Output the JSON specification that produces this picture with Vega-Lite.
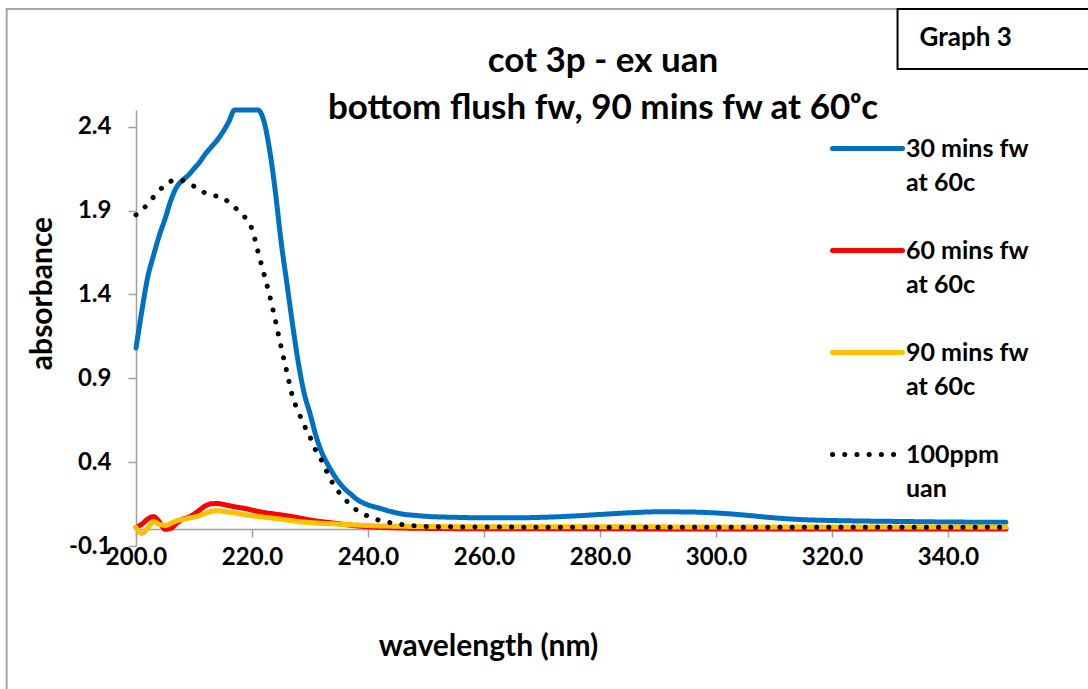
{
  "$schema": "https://vega.github.io/schema/vega-lite/v6.json",
  "width": 870,
  "height": 436,
  "autosize": {"type": "none"},
  "padding": {"left": 136, "top": 110, "right": 82, "bottom": 143},
  "background": "white",
  "config": {"view": {"stroke": null}, "font": "Lato"},
  "title": {
    "text": ["cot 3p - ex uan", "bottom flush fw, 90 mins fw at 60ᵒc"],
    "font": "Lato",
    "fontSize": 35,
    "fontWeight": "bold",
    "color": "black",
    "lineHeight": 47,
    "anchor": "middle",
    "dx": 32,
    "offset": -118
  },
  "datasets": {
    "spectra": [
      {"series": "30 mins fw at 60c", "wavelength": 200, "absorbance": 1.08},
      {"series": "30 mins fw at 60c", "wavelength": 201, "absorbance": 1.30},
      {"series": "30 mins fw at 60c", "wavelength": 202, "absorbance": 1.50},
      {"series": "30 mins fw at 60c", "wavelength": 203, "absorbance": 1.63},
      {"series": "30 mins fw at 60c", "wavelength": 204, "absorbance": 1.75},
      {"series": "30 mins fw at 60c", "wavelength": 205, "absorbance": 1.85},
      {"series": "30 mins fw at 60c", "wavelength": 206, "absorbance": 1.96},
      {"series": "30 mins fw at 60c", "wavelength": 207, "absorbance": 2.04},
      {"series": "30 mins fw at 60c", "wavelength": 208, "absorbance": 2.08},
      {"series": "30 mins fw at 60c", "wavelength": 209, "absorbance": 2.11},
      {"series": "30 mins fw at 60c", "wavelength": 210, "absorbance": 2.15},
      {"series": "30 mins fw at 60c", "wavelength": 211, "absorbance": 2.19},
      {"series": "30 mins fw at 60c", "wavelength": 212, "absorbance": 2.24},
      {"series": "30 mins fw at 60c", "wavelength": 213, "absorbance": 2.28},
      {"series": "30 mins fw at 60c", "wavelength": 214, "absorbance": 2.32},
      {"series": "30 mins fw at 60c", "wavelength": 215, "absorbance": 2.37},
      {"series": "30 mins fw at 60c", "wavelength": 216, "absorbance": 2.43},
      {"series": "30 mins fw at 60c", "wavelength": 217, "absorbance": 2.50},
      {"series": "30 mins fw at 60c", "wavelength": 218, "absorbance": 2.50},
      {"series": "30 mins fw at 60c", "wavelength": 219, "absorbance": 2.50},
      {"series": "30 mins fw at 60c", "wavelength": 220, "absorbance": 2.50},
      {"series": "30 mins fw at 60c", "wavelength": 221, "absorbance": 2.50},
      {"series": "30 mins fw at 60c", "wavelength": 222, "absorbance": 2.44},
      {"series": "30 mins fw at 60c", "wavelength": 223, "absorbance": 2.27},
      {"series": "30 mins fw at 60c", "wavelength": 224, "absorbance": 2.02},
      {"series": "30 mins fw at 60c", "wavelength": 225, "absorbance": 1.72},
      {"series": "30 mins fw at 60c", "wavelength": 226, "absorbance": 1.47},
      {"series": "30 mins fw at 60c", "wavelength": 227, "absorbance": 1.22},
      {"series": "30 mins fw at 60c", "wavelength": 228, "absorbance": 0.99},
      {"series": "30 mins fw at 60c", "wavelength": 229, "absorbance": 0.81},
      {"series": "30 mins fw at 60c", "wavelength": 230, "absorbance": 0.69},
      {"series": "30 mins fw at 60c", "wavelength": 231, "absorbance": 0.56},
      {"series": "30 mins fw at 60c", "wavelength": 232, "absorbance": 0.46},
      {"series": "30 mins fw at 60c", "wavelength": 233, "absorbance": 0.39},
      {"series": "30 mins fw at 60c", "wavelength": 234, "absorbance": 0.33},
      {"series": "30 mins fw at 60c", "wavelength": 235, "absorbance": 0.28},
      {"series": "30 mins fw at 60c", "wavelength": 236, "absorbance": 0.24},
      {"series": "30 mins fw at 60c", "wavelength": 237, "absorbance": 0.21},
      {"series": "30 mins fw at 60c", "wavelength": 238, "absorbance": 0.18},
      {"series": "30 mins fw at 60c", "wavelength": 239, "absorbance": 0.16},
      {"series": "30 mins fw at 60c", "wavelength": 240, "absorbance": 0.145},
      {"series": "30 mins fw at 60c", "wavelength": 242, "absorbance": 0.125},
      {"series": "30 mins fw at 60c", "wavelength": 244, "absorbance": 0.105},
      {"series": "30 mins fw at 60c", "wavelength": 246, "absorbance": 0.09},
      {"series": "30 mins fw at 60c", "wavelength": 248, "absorbance": 0.083},
      {"series": "30 mins fw at 60c", "wavelength": 250, "absorbance": 0.077},
      {"series": "30 mins fw at 60c", "wavelength": 255, "absorbance": 0.071},
      {"series": "30 mins fw at 60c", "wavelength": 260, "absorbance": 0.068},
      {"series": "30 mins fw at 60c", "wavelength": 265, "absorbance": 0.068},
      {"series": "30 mins fw at 60c", "wavelength": 270, "absorbance": 0.071},
      {"series": "30 mins fw at 60c", "wavelength": 275, "absorbance": 0.078},
      {"series": "30 mins fw at 60c", "wavelength": 280, "absorbance": 0.088},
      {"series": "30 mins fw at 60c", "wavelength": 285, "absorbance": 0.098},
      {"series": "30 mins fw at 60c", "wavelength": 290, "absorbance": 0.104},
      {"series": "30 mins fw at 60c", "wavelength": 295, "absorbance": 0.103},
      {"series": "30 mins fw at 60c", "wavelength": 300, "absorbance": 0.097},
      {"series": "30 mins fw at 60c", "wavelength": 305, "absorbance": 0.084},
      {"series": "30 mins fw at 60c", "wavelength": 310, "absorbance": 0.068},
      {"series": "30 mins fw at 60c", "wavelength": 315, "absorbance": 0.057},
      {"series": "30 mins fw at 60c", "wavelength": 320, "absorbance": 0.052},
      {"series": "30 mins fw at 60c", "wavelength": 325, "absorbance": 0.049},
      {"series": "30 mins fw at 60c", "wavelength": 330, "absorbance": 0.047},
      {"series": "30 mins fw at 60c", "wavelength": 335, "absorbance": 0.045},
      {"series": "30 mins fw at 60c", "wavelength": 340, "absorbance": 0.043},
      {"series": "30 mins fw at 60c", "wavelength": 345, "absorbance": 0.042},
      {"series": "30 mins fw at 60c", "wavelength": 350, "absorbance": 0.041},

      {"series": "60 mins fw at 60c", "wavelength": 200, "absorbance": 0.01},
      {"series": "60 mins fw at 60c", "wavelength": 201, "absorbance": 0.03},
      {"series": "60 mins fw at 60c", "wavelength": 202, "absorbance": 0.06},
      {"series": "60 mins fw at 60c", "wavelength": 203, "absorbance": 0.075},
      {"series": "60 mins fw at 60c", "wavelength": 204, "absorbance": 0.045},
      {"series": "60 mins fw at 60c", "wavelength": 205, "absorbance": 0.0},
      {"series": "60 mins fw at 60c", "wavelength": 206, "absorbance": 0.005},
      {"series": "60 mins fw at 60c", "wavelength": 207, "absorbance": 0.035},
      {"series": "60 mins fw at 60c", "wavelength": 208, "absorbance": 0.06},
      {"series": "60 mins fw at 60c", "wavelength": 209, "absorbance": 0.07},
      {"series": "60 mins fw at 60c", "wavelength": 210, "absorbance": 0.09},
      {"series": "60 mins fw at 60c", "wavelength": 211, "absorbance": 0.115},
      {"series": "60 mins fw at 60c", "wavelength": 212, "absorbance": 0.14},
      {"series": "60 mins fw at 60c", "wavelength": 213, "absorbance": 0.152},
      {"series": "60 mins fw at 60c", "wavelength": 214, "absorbance": 0.153},
      {"series": "60 mins fw at 60c", "wavelength": 215, "absorbance": 0.148},
      {"series": "60 mins fw at 60c", "wavelength": 216, "absorbance": 0.141},
      {"series": "60 mins fw at 60c", "wavelength": 217, "absorbance": 0.134},
      {"series": "60 mins fw at 60c", "wavelength": 218, "absorbance": 0.128},
      {"series": "60 mins fw at 60c", "wavelength": 219, "absorbance": 0.122},
      {"series": "60 mins fw at 60c", "wavelength": 220, "absorbance": 0.114},
      {"series": "60 mins fw at 60c", "wavelength": 222, "absorbance": 0.1},
      {"series": "60 mins fw at 60c", "wavelength": 224, "absorbance": 0.09},
      {"series": "60 mins fw at 60c", "wavelength": 226, "absorbance": 0.08},
      {"series": "60 mins fw at 60c", "wavelength": 228, "absorbance": 0.068},
      {"series": "60 mins fw at 60c", "wavelength": 230, "absorbance": 0.055},
      {"series": "60 mins fw at 60c", "wavelength": 232, "absorbance": 0.045},
      {"series": "60 mins fw at 60c", "wavelength": 234, "absorbance": 0.037},
      {"series": "60 mins fw at 60c", "wavelength": 236, "absorbance": 0.028},
      {"series": "60 mins fw at 60c", "wavelength": 238, "absorbance": 0.02},
      {"series": "60 mins fw at 60c", "wavelength": 240, "absorbance": 0.015},
      {"series": "60 mins fw at 60c", "wavelength": 245, "absorbance": 0.008},
      {"series": "60 mins fw at 60c", "wavelength": 250, "absorbance": 0.005},
      {"series": "60 mins fw at 60c", "wavelength": 260, "absorbance": 0.003},
      {"series": "60 mins fw at 60c", "wavelength": 300, "absorbance": 0.002},
      {"series": "60 mins fw at 60c", "wavelength": 350, "absorbance": 0.002},

      {"series": "90 mins fw at 60c", "wavelength": 200, "absorbance": 0.01},
      {"series": "90 mins fw at 60c", "wavelength": 201, "absorbance": -0.025},
      {"series": "90 mins fw at 60c", "wavelength": 202, "absorbance": 0.005},
      {"series": "90 mins fw at 60c", "wavelength": 203, "absorbance": 0.045},
      {"series": "90 mins fw at 60c", "wavelength": 204, "absorbance": 0.03},
      {"series": "90 mins fw at 60c", "wavelength": 205, "absorbance": 0.022},
      {"series": "90 mins fw at 60c", "wavelength": 206, "absorbance": 0.035},
      {"series": "90 mins fw at 60c", "wavelength": 207, "absorbance": 0.05},
      {"series": "90 mins fw at 60c", "wavelength": 208, "absorbance": 0.058},
      {"series": "90 mins fw at 60c", "wavelength": 209, "absorbance": 0.065},
      {"series": "90 mins fw at 60c", "wavelength": 210, "absorbance": 0.072},
      {"series": "90 mins fw at 60c", "wavelength": 211, "absorbance": 0.082},
      {"series": "90 mins fw at 60c", "wavelength": 212, "absorbance": 0.095},
      {"series": "90 mins fw at 60c", "wavelength": 213, "absorbance": 0.106},
      {"series": "90 mins fw at 60c", "wavelength": 214, "absorbance": 0.11},
      {"series": "90 mins fw at 60c", "wavelength": 215, "absorbance": 0.107},
      {"series": "90 mins fw at 60c", "wavelength": 216, "absorbance": 0.102},
      {"series": "90 mins fw at 60c", "wavelength": 217, "absorbance": 0.097},
      {"series": "90 mins fw at 60c", "wavelength": 218, "absorbance": 0.091},
      {"series": "90 mins fw at 60c", "wavelength": 220, "absorbance": 0.081},
      {"series": "90 mins fw at 60c", "wavelength": 222, "absorbance": 0.072},
      {"series": "90 mins fw at 60c", "wavelength": 224, "absorbance": 0.064},
      {"series": "90 mins fw at 60c", "wavelength": 226, "absorbance": 0.055},
      {"series": "90 mins fw at 60c", "wavelength": 228, "absorbance": 0.046},
      {"series": "90 mins fw at 60c", "wavelength": 230, "absorbance": 0.04},
      {"series": "90 mins fw at 60c", "wavelength": 232, "absorbance": 0.035},
      {"series": "90 mins fw at 60c", "wavelength": 234, "absorbance": 0.032},
      {"series": "90 mins fw at 60c", "wavelength": 236, "absorbance": 0.028},
      {"series": "90 mins fw at 60c", "wavelength": 238, "absorbance": 0.025},
      {"series": "90 mins fw at 60c", "wavelength": 240, "absorbance": 0.022},
      {"series": "90 mins fw at 60c", "wavelength": 245, "absorbance": 0.018},
      {"series": "90 mins fw at 60c", "wavelength": 250, "absorbance": 0.016},
      {"series": "90 mins fw at 60c", "wavelength": 260, "absorbance": 0.015},
      {"series": "90 mins fw at 60c", "wavelength": 300, "absorbance": 0.014},
      {"series": "90 mins fw at 60c", "wavelength": 350, "absorbance": 0.014},

      {"series": "100ppm uan", "wavelength": 200, "absorbance": 1.875},
      {"series": "100ppm uan", "wavelength": 201, "absorbance": 1.9},
      {"series": "100ppm uan", "wavelength": 202, "absorbance": 1.94},
      {"series": "100ppm uan", "wavelength": 203, "absorbance": 1.98},
      {"series": "100ppm uan", "wavelength": 204, "absorbance": 2.02},
      {"series": "100ppm uan", "wavelength": 205, "absorbance": 2.05},
      {"series": "100ppm uan", "wavelength": 206, "absorbance": 2.075},
      {"series": "100ppm uan", "wavelength": 207, "absorbance": 2.085},
      {"series": "100ppm uan", "wavelength": 208, "absorbance": 2.08},
      {"series": "100ppm uan", "wavelength": 209, "absorbance": 2.065},
      {"series": "100ppm uan", "wavelength": 210, "absorbance": 2.045},
      {"series": "100ppm uan", "wavelength": 211, "absorbance": 2.02},
      {"series": "100ppm uan", "wavelength": 212, "absorbance": 2.005},
      {"series": "100ppm uan", "wavelength": 213, "absorbance": 1.995},
      {"series": "100ppm uan", "wavelength": 214, "absorbance": 1.985},
      {"series": "100ppm uan", "wavelength": 215, "absorbance": 1.975},
      {"series": "100ppm uan", "wavelength": 216, "absorbance": 1.95},
      {"series": "100ppm uan", "wavelength": 217, "absorbance": 1.92},
      {"series": "100ppm uan", "wavelength": 218, "absorbance": 1.89},
      {"series": "100ppm uan", "wavelength": 219, "absorbance": 1.85},
      {"series": "100ppm uan", "wavelength": 220, "absorbance": 1.79},
      {"series": "100ppm uan", "wavelength": 221, "absorbance": 1.66},
      {"series": "100ppm uan", "wavelength": 222, "absorbance": 1.53},
      {"series": "100ppm uan", "wavelength": 223, "absorbance": 1.40},
      {"series": "100ppm uan", "wavelength": 224, "absorbance": 1.25},
      {"series": "100ppm uan", "wavelength": 225, "absorbance": 1.09},
      {"series": "100ppm uan", "wavelength": 226, "absorbance": 0.94},
      {"series": "100ppm uan", "wavelength": 227, "absorbance": 0.79},
      {"series": "100ppm uan", "wavelength": 228, "absorbance": 0.70},
      {"series": "100ppm uan", "wavelength": 229, "absorbance": 0.62},
      {"series": "100ppm uan", "wavelength": 230, "absorbance": 0.55},
      {"series": "100ppm uan", "wavelength": 231, "absorbance": 0.47},
      {"series": "100ppm uan", "wavelength": 232, "absorbance": 0.41},
      {"series": "100ppm uan", "wavelength": 233, "absorbance": 0.335},
      {"series": "100ppm uan", "wavelength": 234, "absorbance": 0.27},
      {"series": "100ppm uan", "wavelength": 235, "absorbance": 0.22},
      {"series": "100ppm uan", "wavelength": 236, "absorbance": 0.18},
      {"series": "100ppm uan", "wavelength": 237, "absorbance": 0.145},
      {"series": "100ppm uan", "wavelength": 238, "absorbance": 0.115},
      {"series": "100ppm uan", "wavelength": 239, "absorbance": 0.095},
      {"series": "100ppm uan", "wavelength": 240, "absorbance": 0.078},
      {"series": "100ppm uan", "wavelength": 241, "absorbance": 0.064},
      {"series": "100ppm uan", "wavelength": 242, "absorbance": 0.053},
      {"series": "100ppm uan", "wavelength": 244, "absorbance": 0.038},
      {"series": "100ppm uan", "wavelength": 246, "absorbance": 0.028},
      {"series": "100ppm uan", "wavelength": 248, "absorbance": 0.021},
      {"series": "100ppm uan", "wavelength": 250, "absorbance": 0.017},
      {"series": "100ppm uan", "wavelength": 260, "absorbance": 0.013},
      {"series": "100ppm uan", "wavelength": 280, "absorbance": 0.012},
      {"series": "100ppm uan", "wavelength": 300, "absorbance": 0.012},
      {"series": "100ppm uan", "wavelength": 320, "absorbance": 0.012},
      {"series": "100ppm uan", "wavelength": 350, "absorbance": 0.012}
    ]
  },
  "layer": [
    {
      "data": {"values": [{}]},
      "mark": {"type": "rect", "fill": null, "fillOpacity": 0, "stroke": "#A6A6A6", "strokeWidth": 2},
      "encoding": {
        "x": {"datum": 177.7, "type": "quantitative"},
        "x2": {"datum": 380},
        "y": {"datum": 3.102, "type": "quantitative"},
        "y2": {"datum": -1.5}
      }
    },
    {
      "data": {"values": [{}]},
      "mark": {"type": "rect", "fill": "white", "stroke": "black", "strokeWidth": 2},
      "encoding": {
        "x": {"datum": 331.3, "type": "quantitative"},
        "x2": {"datum": 380},
        "y": {"datum": 3.102, "type": "quantitative"},
        "y2": {"datum": 2.745}
      }
    },
    {
      "data": {"values": [{}]},
      "mark": {"type": "text", "text": "Graph 3", "align": "left", "baseline": "middle", "font": "Lato", "fontSize": 26, "fontWeight": "bold", "color": "black"},
      "encoding": {
        "x": {"datum": 335.1, "type": "quantitative"},
        "y": {"datum": 2.93, "type": "quantitative"}
      }
    },
    {
      "data": {"name": "spectra"},
      "mark": {"type": "line", "strokeWidth": 5, "strokeCap": "round", "strokeJoin": "round", "interpolate": "monotone"},
      "encoding": {
        "x": {
          "field": "wavelength",
          "type": "quantitative",
          "scale": {"domain": [200, 350], "nice": false, "zero": false},
          "axis": {
            "title": "wavelength (nm)",
            "values": [200, 220, 240, 260, 280, 300, 320, 340],
            "format": ".1f",
            "offset": -17,
            "grid": false,
            "domainColor": "#A0A0A0",
            "domainWidth": 1.5,
            "tickColor": "#A0A0A0",
            "tickWidth": 1.5,
            "tickSize": 8,
            "labelPadding": 8,
            "labelFont": "Lato",
            "labelFontSize": 24,
            "labelFontWeight": "bold",
            "labelColor": "black",
            "labelFlush": false,
            "labelOverlap": false,
            "titleFont": "Lato",
            "titleFontSize": 30,
            "titleFontWeight": "bold",
            "titleColor": "black",
            "titleX": 352,
            "titleY": 117,
            "titleAlign": "center",
            "titleBaseline": "middle"
          }
        },
        "y": {
          "field": "absorbance",
          "type": "quantitative",
          "scale": {"domain": [-0.1, 2.5], "nice": false, "zero": false},
          "axis": {
            "title": "absorbance",
            "values": [-0.1, 0.4, 0.9, 1.4, 1.9, 2.4],
            "labelExpr": "replace(format(datum.value, '.1f'), '−', '-')",
            "grid": false,
            "domainColor": "#A0A0A0",
            "domainWidth": 1.5,
            "tickColor": "#A0A0A0",
            "tickWidth": 1.5,
            "tickSize": 8,
            "labelPadding": 17,
            "labelFont": "Lato",
            "labelFontSize": 24,
            "labelFontWeight": "bold",
            "labelColor": "black",
            "labelFlush": false,
            "labelOverlap": false,
            "titleFont": "Lato",
            "titleFontSize": 30,
            "titleFontWeight": "bold",
            "titleColor": "black",
            "titleX": -94,
            "titleY": 183,
            "titleAlign": "center",
            "titleBaseline": "middle",
            "titleAngle": -90
          }
        },
        "color": {
          "field": "series",
          "type": "nominal",
          "scale": {
            "domain": ["30 mins fw at 60c", "60 mins fw at 60c", "90 mins fw at 60c", "100ppm uan"],
            "range": ["#0070C0", "#FF0000", "#FFC000", "#000000"]
          },
          "legend": {
            "orient": "none",
            "legendX": 694,
            "legendY": 1,
            "title": null,
            "padding": 0,
            "symbolType": "stroke",
            "symbolSize": 4900,
            "symbolStrokeWidth": 5,
            "labelFont": "Lato",
            "labelFontSize": 25,
            "labelFontWeight": "bold",
            "labelColor": "black",
            "labelLimit": 300,
            "labelOffset": 1,
            "rowPadding": 17,
            "labelExpr": "split(replace(replace(datum.label, ' at ', '|at '), 'ppm ', 'ppm|'), '|')",
            "encode": {
              "symbols": {"update": {"strokeCap": {"value": "round"}}},
              "labels": {"update": {"lineHeight": {"value": 34}}}
            }
          }
        },
        "strokeDash": {
          "field": "series",
          "type": "nominal",
          "scale": {
            "domain": ["30 mins fw at 60c", "60 mins fw at 60c", "90 mins fw at 60c", "100ppm uan"],
            "range": [[1, 0], [1, 0], [1, 0], [0.1, 12.1]]
          }
        }
      }
    }
  ]
}
